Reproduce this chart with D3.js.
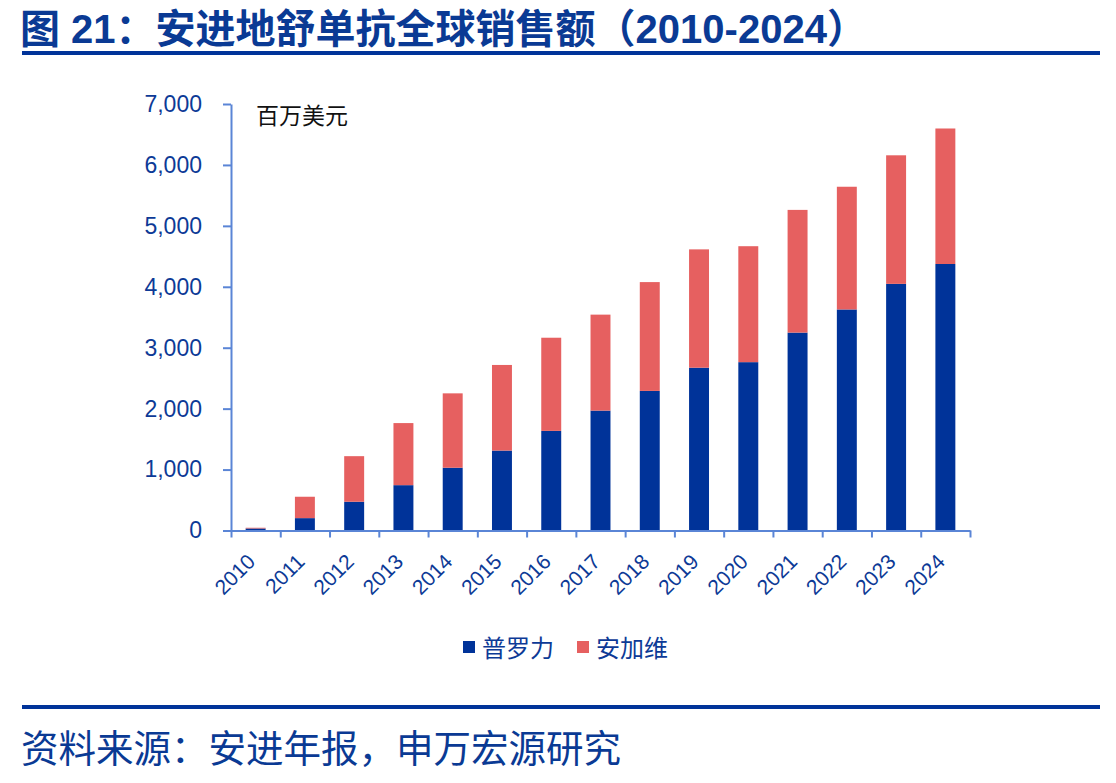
<!DOCTYPE html>
<html>
<head>
<meta charset="utf-8">
<script src="https://cdn.jsdelivr.net/npm/d3@7"></script>
<style>
  html, body { margin: 0; padding: 0; background: #fff; }
  svg text { font-family: "Liberation Sans", Arial, "Noto Sans CJK SC", sans-serif; }
  .cjk { font-family: "Noto Sans CJK SC", "Liberation Sans", sans-serif; }
</style>
</head>
<body>
<div id="chart"></div>
<script>
// --- Dữ liệu (百万美元) ---
const years  = ["2010","2011","2012","2013","2014","2015","2016","2017","2018","2019","2020","2021","2022","2023","2024"];
const prolia = [33, 203, 472, 744, 1030, 1312, 1635, 1968, 2291, 2672, 2763, 3248, 3628, 4048, 4374];
const xgeva  = [12, 351, 748, 1019, 1221, 1405, 1529, 1575, 1786, 1942, 1903, 2014, 2014, 2110, 2224];
const seriesNames = ["普罗力", "安加维"];
const yTicks = [0, 1000, 2000, 3000, 4000, 5000, 6000, 7000];

const W = 1116, H = 783;
const darkBlue = "#0d3a96", axisBlue = "#5a85d6";
const colors = ["#003399", "#e66060"];

const svg = d3.select("#chart").append("svg")
  .attr("width", W).attr("height", H);

// --- Tiêu đề ---
svg.append("text")
  .attr("x", 20).attr("y", 43)
  .attr("fill", "#0a3a94")
  .style("font-family", "'Liberation Sans', 'Noto Sans CJK SC', sans-serif")
  .style("font-size", "40px")
  .style("font-weight", "bold")
  .text("图 21：安进地舒单抗全球销售额（2010-2024）");

svg.append("rect").attr("x", 22).attr("y", 51).attr("width", 1078).attr("height", 4).attr("fill", "#003399");
svg.append("rect").attr("x", 22).attr("y", 705).attr("width", 1078).attr("height", 4).attr("fill", "#003399");

// --- Nguồn ---
svg.append("text")
  .attr("class", "cjk")
  .attr("x", 21).attr("y", 762)
  .attr("fill", "#0a3a94")
  .style("font-size", "37.5px")
  .text("资料来源：安进年报，申万宏源研究");

// --- Scale ---
const x = d3.scaleBand()
  .domain(years)
  .range([231, 970])
  .paddingInner(0.595)
  .paddingOuter(0.2975);

const y = d3.scaleLinear()
  .domain([0, 7000])
  .range([530.5, 104]);

// --- Stack ---
const rows = years.map((yr, i) => ({ year: yr, p: prolia[i], x: xgeva[i] }));
const stacked = d3.stack().keys(["p", "x"])(rows);

svg.append("g")
  .selectAll("g")
  .data(stacked)
  .join("g")
    .attr("fill", (d, i) => colors[i])
  .selectAll("rect")
  .data(d => d)
  .join("rect")
    .attr("x", d => x(d.data.year))
    .attr("y", d => y(d[1]))
    .attr("width", x.bandwidth())
    .attr("height", d => y(d[0]) - y(d[1]));

// --- Trục Y ---
const gy = svg.append("g")
  .attr("transform", "translate(231,0)")
  .call(d3.axisLeft(y)
    .tickValues(yTicks)
    .tickSize(8)
    .tickSizeOuter(0)
    .tickPadding(21)
    .tickFormat(d3.format(",")));
gy.select(".domain").attr("stroke", axisBlue).attr("stroke-width", 2);
gy.selectAll(".tick line").attr("stroke", axisBlue).attr("stroke-width", 2);
gy.selectAll(".tick text").attr("fill", darkBlue).style("font-size", "23px");

// --- Trục X (vạch ở ranh giới nhóm) ---
const xEdge = d3.scaleLinear().domain([0, years.length]).range([231, 970]);
const gx = svg.append("g")
  .attr("transform", "translate(0,530.5)")
  .call(d3.axisBottom(xEdge)
    .tickValues(d3.range(years.length + 1))
    .tickSize(7)
    .tickSizeOuter(0)
    .tickFormat(""));
gx.select(".domain").attr("stroke", axisBlue).attr("stroke-width", 2);
gx.selectAll(".tick line").attr("stroke", axisBlue).attr("stroke-width", 2);

svg.append("g")
  .selectAll("text")
  .data(years)
  .join("text")
    .attr("transform", d => `translate(${x(d) + x.bandwidth() / 2 + 1},563) rotate(-45)`)
    .attr("text-anchor", "end")
    .attr("fill", darkBlue)
    .style("font-size", "21px")
    .text(d => d);

// --- Đơn vị ---
svg.append("text")
  .attr("class", "cjk")
  .attr("x", 256).attr("y", 124)
  .attr("fill", "#111")
  .style("font-size", "23px")
  .text("百万美元");

// --- Legend ---
const legendX = [463, 577];
seriesNames.forEach((name, i) => {
  svg.append("rect")
    .attr("x", legendX[i]).attr("y", 641)
    .attr("width", 12).attr("height", 12)
    .attr("fill", colors[i]);
  svg.append("text")
    .attr("class", "cjk")
    .attr("x", legendX[i] + 19).attr("y", 657)
    .attr("fill", darkBlue)
    .style("font-size", "24px")
    .text(name);
});
</script>
</body>
</html>
